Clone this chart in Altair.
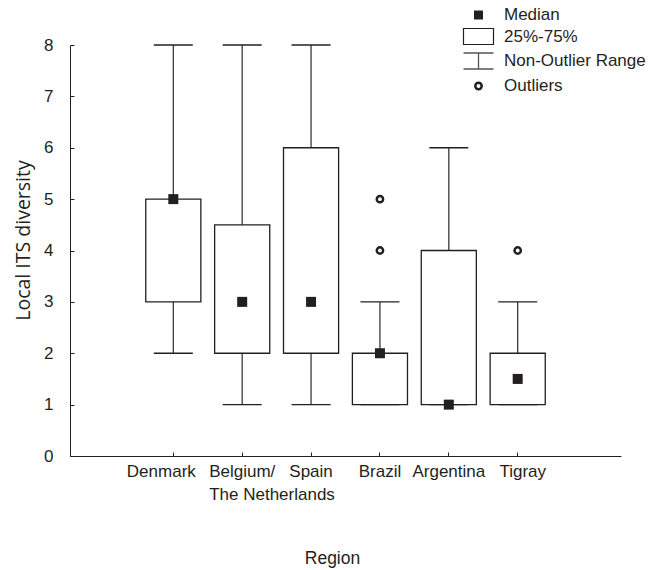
import altair as alt
import pandas as pd

# ---- data ----
regions = ["Denmark", "Belgium/ The Netherlands", "Spain", "Brazil", "Argentina", "Tigray"]
whisker_low = [2, 1, 1, 1, 1, 1]
whisker_high = [8, 8, 8, 3, 6, 3]
q1 = [3, 2, 2, 1, 1, 1]
q3 = [5, 4.5, 6, 2, 4, 2]
median = [5, 3, 3, 2, 1, 1.5]
outlier_region = ["Brazil", "Brazil", "Tigray"]
outlier_value = [5, 4, 4]
legend_items = ["Median", "25%-75%", "Non-Outlier Range", "Outliers"]
y_ticks = [0, 1, 2, 3, 4, 5, 6, 7, 8]

boxes = pd.DataFrame({"Region": regions, "lo": whisker_low, "hi": whisker_high,
                      "q1": q1, "q3": q3, "med": median})
outs = pd.DataFrame({"Region": outlier_region, "v": outlier_value})
leg = pd.DataFrame({"item": legend_items})

INK = "#231f20"
FONT = "Liberation Sans"

x_enc = alt.X(
    "Region:N",
    sort=regions,
    scale=alt.Scale(domain=regions, paddingInner=0, paddingOuter=1),
    axis=alt.Axis(
        title="Region", titleX=262, titleY=102, titleBaseline="middle",
        titleFont=FONT, titleFontSize=17.5, titleFontWeight="normal", titleColor=INK,
        labelAngle=0, labelFont=FONT, labelFontSize=17, labelColor=INK,
        labelPadding=11.5, labelBaseline="top", labelLineHeight=23,
        labelOverlap=False,
        labelExpr="datum.label == 'Belgium/ The Netherlands' ? ['Belgium/', 'The Netherlands'] : datum.label",
        labelAlign={"condition": {"test": "datum.value == 'Belgium/ The Netherlands'", "value": "left"},
                    "value": "center"},
        labelOffset={"condition": [
            {"test": "datum.value == 'Belgium/ The Netherlands'", "value": -33},
            {"test": "datum.value == 'Denmark'", "value": -12},
            {"test": "datum.value == 'Tigray'", "value": 5}],
            "value": 0},
        tickSize={"expr": "-4"}, tickColor=INK, domainColor=INK, grid=False,
    ),
)

y_scale = alt.Scale(domain=[0, 8], nice=False, zero=True)
y_axis = alt.Axis(
    values=y_ticks, title="Local ITS diversity", titleX=-47, titleY=195,
    titleBaseline="middle", titleAlign="center", titleAngle=270,
    titleFont="Open Sans", titleFontSize=19.5, titleFontWeight="normal", titleColor=INK,
    labelFont=FONT, labelFontSize=17, labelColor=INK, labelPadding=21,
    tickSize={"expr": "-4"}, tickColor=INK, domainColor=INK, grid=False,
)

base = alt.Chart(boxes)

whiskers = base.mark_rule(color="#3a3a3a", strokeWidth=1.3).encode(
    x=x_enc,
    y=alt.Y("lo:Q", scale=y_scale, axis=y_axis),
    y2="hi:Q",
)

box = base.mark_bar(fill="white", stroke=INK, strokeWidth=1.3,
                    width=alt.RelativeBandSize(0.8)).encode(
    x=x_enc, y=alt.Y("q1:Q", scale=y_scale), y2="q3:Q"
)

cap_lo = base.mark_tick(color=INK, size=39, thickness=1.3, opacity=1).encode(
    x=x_enc, y=alt.Y("lo:Q", scale=y_scale)
)
cap_hi = base.mark_tick(color=INK, size=39, thickness=1.3, opacity=1).encode(
    x=x_enc, y=alt.Y("hi:Q", scale=y_scale)
)

med_pts = base.mark_square(color=INK, size=100, opacity=1).encode(
    x=x_enc, y=alt.Y("med:Q", scale=y_scale)
)

out_pts = alt.Chart(outs).mark_point(shape="circle", size=40, fill="white",
                                     stroke=INK, strokeWidth=2.5, opacity=1,
                                     filled=False).encode(
    x=x_enc, y=alt.Y("v:Q", scale=y_scale)
)

# legend built from an (empty) layer with explicit scale domains;
# all symbols share one size so the rows are evenly spaced
median_path = "M-0.45,-0.45H0.45V0.45H-0.45Z"
box_path = "M-1.5,-0.8H1.5V0.8H-1.5Z"
whisker_path = "M-1.5,-0.8H1.5M0,-0.8V0.8M-1.5,0.8H1.5"
circle_path = "M-0.32,0A0.32,0.32 0 1,0 0.32,0A0.32,0.32 0 1,0 -0.32,0Z"
legend_layer = alt.Chart(leg).transform_filter("false").mark_point(opacity=1, size=400).encode(
    x=x_enc,
    y=alt.Y("v:Q", scale=y_scale),
    shape=alt.Shape("item:N", scale=alt.Scale(domain=legend_items,
                    range=[median_path, box_path, whisker_path, circle_path]),
                    legend=alt.Legend(title=None, orient="none", legendX=397, legendY=-40,
                                      labelFont=FONT, labelFontSize=17, labelColor=INK,
                                      labelOffset=14, rowPadding=2.5, padding=0,
                                      symbolSize=400, symbolOffset=0)),
    fill=alt.Fill("item:N", scale=alt.Scale(domain=legend_items,
                  range=[INK, "white", "transparent", "white"]), legend=alt.Legend(title=None)),
    stroke=alt.Stroke("item:N", scale=alt.Scale(domain=legend_items,
                      range=[INK, INK, "#555555", INK]), legend=alt.Legend(title=None)),
    strokeWidth=alt.StrokeWidth("item:O", scale=alt.Scale(type="ordinal", domain=legend_items,
                                range=[0, 1.2, 1.3, 2.5]), legend=alt.Legend(title=None)),
)

chart = alt.layer(whiskers, box, cap_lo, cap_hi, med_pts, out_pts, legend_layer).properties(
    width=551, height=411,
    padding={"left": 70, "top": 45, "right": 41, "bottom": 114},
    autosize=alt.AutoSizeParams(type="none"),
    background="white",
).configure_view(strokeWidth=0)

chart.save("out.html", embed_options={"renderer": "svg", "actions": False})
